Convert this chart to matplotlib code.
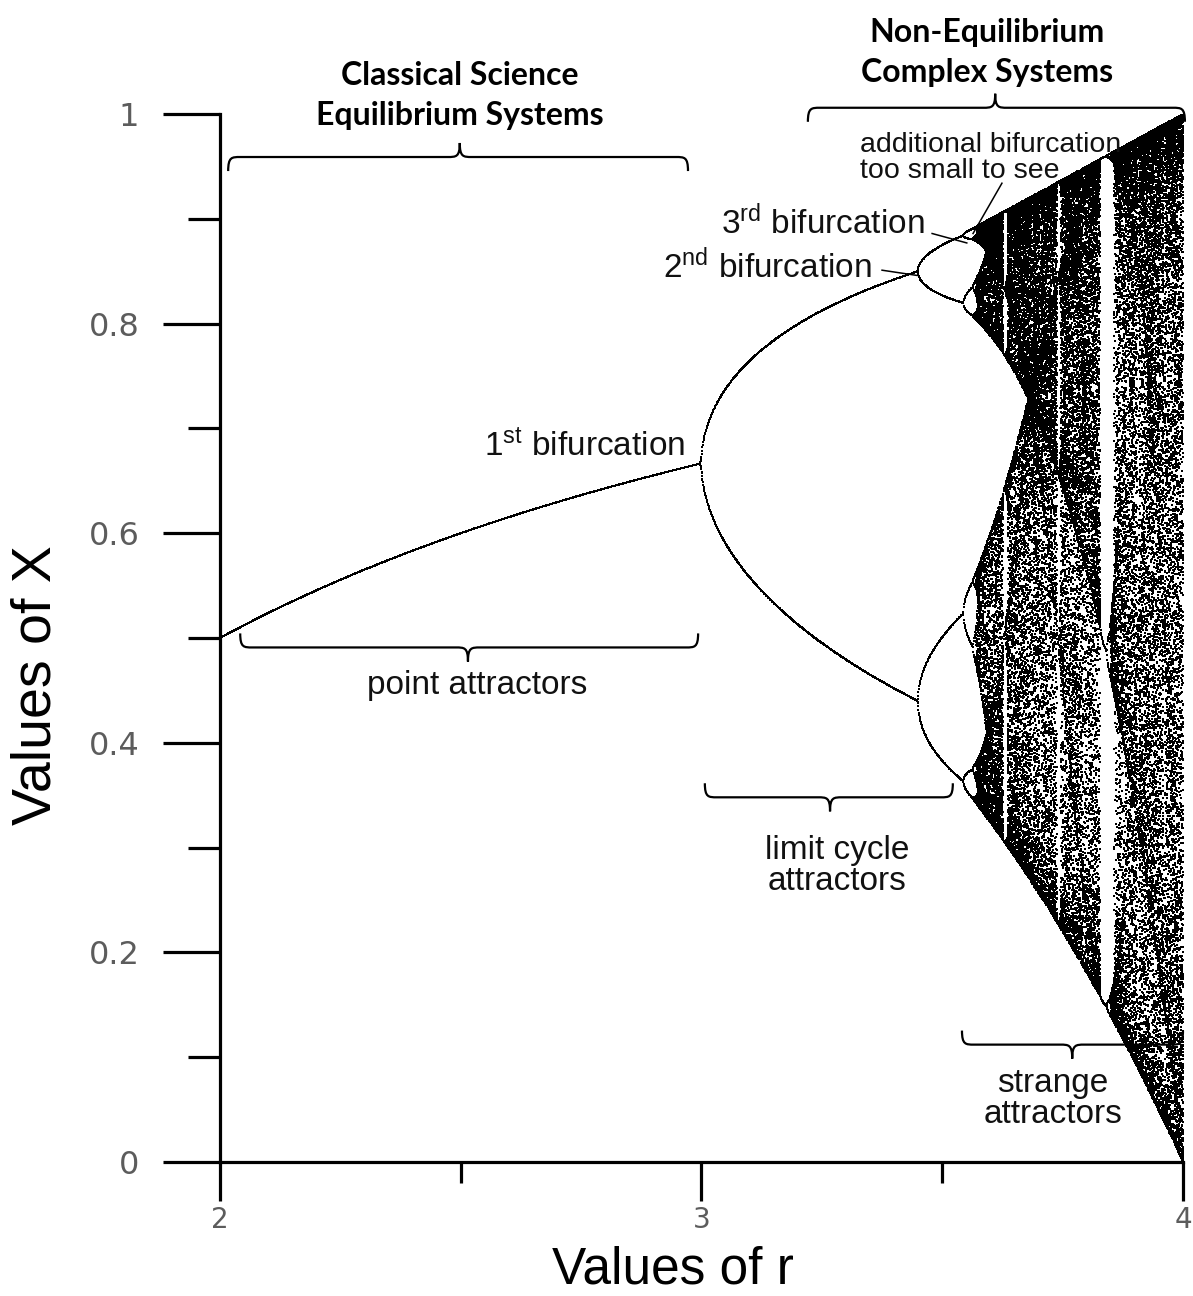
import numpy as np
import matplotlib
matplotlib.use("Agg")
import matplotlib.pyplot as plt
from matplotlib.path import Path
from matplotlib.patches import PathPatch

# ---- logistic map  x_{n+1} = r * x_n * (1 - x_n) -------------------------
R_START, R_END = 2.0, 4.0      # growth parameter range
N_R = 2400                     # number of r columns
N_TRANSIENT = 1000             # iterations discarded before recording
N_KEEP = 130                   # recorded iterations per r
X_START = 0.3                  # initial population

# ---- axis ticks ------------------------------------------------------------
Y_TICKS_MAJOR = [0.0, 0.2, 0.4, 0.6, 0.8, 1.0]
Y_TICK_LABELS = ["0", "0.2", "0.4", "0.6", "0.8", "1"]
Y_TICKS_MINOR = [0.1, 0.3, 0.5, 0.7, 0.9]
X_TICKS_MAJOR = [2.0, 3.0, 4.0]
X_TICK_LABELS = ["2", "3", "4"]
X_TICKS_MINOR = [2.5, 3.5]

plt.rcParams["font.family"] = ["Liberation Sans", "DejaVu Sans"]
plt.rcParams["mathtext.fontset"] = "custom"
plt.rcParams["mathtext.rm"] = "Liberation Sans"
plt.rcParams["mathtext.it"] = "Liberation Sans"

r = np.linspace(R_START, R_END, N_R)
x = np.full_like(r, X_START)
for _ in range(N_TRANSIENT):
    x = r * x * (1.0 - x)
orbit_r, orbit_x = [], []
for _ in range(N_KEEP):
    x = r * x * (1.0 - x)
    orbit_r.append(r)
    orbit_x.append(x.copy())
orbit_r = np.concatenate(orbit_r)
orbit_x = np.concatenate(orbit_x)

fig = plt.figure(figsize=(11.93, 12.96), dpi=100)
ax = fig.add_axes([0.1844, 0.1034, 0.8072, 0.8086])

ax.scatter(orbit_r, orbit_x, s=2.0, marker="s", c="black", linewidths=0,
           rasterized=True)

ax.set_xlim(R_START, R_END)
ax.set_ylim(0, 1)
for side in ("top", "right"):
    ax.spines[side].set_visible(False)
for side in ("left", "bottom"):
    ax.spines[side].set_linewidth(2.3)

ax.set_yticks(Y_TICKS_MAJOR)
ax.set_yticklabels(Y_TICK_LABELS)
ax.set_yticks(Y_TICKS_MINOR, minor=True)
ax.set_xticks(X_TICKS_MAJOR)
ax.set_xticklabels(X_TICK_LABELS)
ax.set_xticks(X_TICKS_MINOR, minor=True)

ax.tick_params(axis="y", which="major", direction="out", length=41, width=2.3,
               pad=17, labelsize=23, labelcolor="#5c5c5c")
ax.tick_params(axis="y", which="minor", direction="out", length=23, width=2.3)
ax.tick_params(axis="x", which="major", direction="out", length=28, width=2.3,
               pad=4, labelsize=20, labelcolor="#5c5c5c")
ax.tick_params(axis="x", which="minor", direction="out", length=15, width=2.3)
for lab in ax.get_xticklabels() + ax.get_yticklabels():
    lab.set_fontfamily("DejaVu Sans")

# axis titles, placed in figure pixels
fig.text(673 / 1193, 1 - 1295 / 1296, "Values of r", fontsize=37,
         ha="center", va="bottom")
ax.text(-0.191, 0.455, "Values of X", transform=ax.transAxes, fontsize=40,
        rotation=90, ha="center", va="center")


def brace(x0, x1, y, xc, up, h=0.0134, w=0.025):
    """Curly brace along y from x0 to x1; tips point up if up else down."""
    d = 1.0 if up else -1.0
    verts = [
        (x0, y + d * h),
        (x0, y), (x0 + 0.3 * w, y), (x0 + w, y),
        (xc - w, y),
        (xc - 0.3 * w, y), (xc, y), (xc, y - d * h),
        (xc, y), (xc + 0.3 * w, y), (xc + w, y),
        (x1 - w, y),
        (x1 - 0.3 * w, y), (x1, y), (x1, y + d * h),
    ]
    codes = [Path.MOVETO,
             Path.CURVE4, Path.CURVE4, Path.CURVE4,
             Path.LINETO,
             Path.CURVE4, Path.CURVE4, Path.CURVE4,
             Path.CURVE4, Path.CURVE4, Path.CURVE4,
             Path.LINETO,
             Path.CURVE4, Path.CURVE4, Path.CURVE4]
    ax.add_patch(PathPatch(Path(verts, codes), facecolor="none",
                           edgecolor="black", linewidth=1.6, clip_on=False,
                           zorder=4))


brace(2.017, 2.972, 0.959, 2.498, up=False)
brace(3.221, 4.004, 1.006, 3.610, up=False)
brace(2.042, 2.993, 0.491, 2.515, up=True)
brace(3.007, 3.522, 0.348, 3.267, up=True)
brace(3.541, 4.000, 0.112, 3.770, up=True)

header = dict(family=["Lato", "DejaVu Sans"], fontsize=23, fontweight="bold",
              ha="center", va="center", linespacing=1.45, clip_on=False)
ax.text(2.498, 1.018, "Classical Science\nEquilibrium Systems", **header)
ax.text(3.593, 1.059, "Non-Equilibrium\nComplex Systems", **header)

note = dict(fontsize=24, color="#111111", clip_on=False, zorder=5)
ax.text(2.966, 0.682, r"1$^{\mathrm{st}}$ bifurcation", ha="right",
        va="center", **note)
ax.text(3.354, 0.854, r"2$^{\mathrm{nd}}$ bifurcation", ha="right",
        va="center", **note)
ax.text(3.464, 0.896, r"3$^{\mathrm{rd}}$ bifurcation", ha="right",
        va="center", **note)
ax.text(3.329, 0.9585, "additional bifurcation\ntoo small to see",
        ha="left", va="center", fontsize=20.5, linespacing=1.0,
        color="#111111", zorder=5)
ax.text(2.535, 0.455, "point attractors", ha="center", va="center", **note)
ax.text(3.281, 0.282, "limit cycle\nattractors", ha="center", va="center",
        linespacing=1.0, **note)
ax.text(3.730, 0.060, "strange\nattractors", ha="center", va="center",
        linespacing=1.0, **note)

leader = dict(color="black", linewidth=1.1, zorder=5)
ax.plot([3.375, 3.4476], [0.851, 0.846], **leader)
ax.plot([3.479, 3.551], [0.886, 0.877], **leader)
ax.plot([3.624, 3.564], [0.934, 0.886], **leader)

fig.savefig("out.png", dpi=100)
